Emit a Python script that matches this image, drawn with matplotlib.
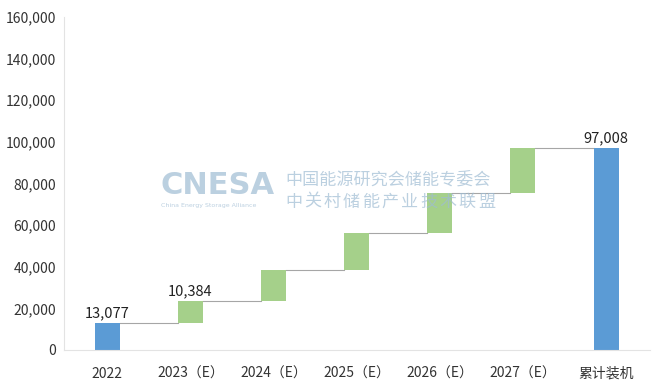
import matplotlib
matplotlib.use("Agg")
import matplotlib.pyplot as plt
import numpy as np

plt.rcParams["font.family"] = ["Noto Sans CJK SC", "DejaVu Sans"]

# 数据
categories = ["2022", "2023（E）", "2024（E）", "2025（E）", "2026（E）", "2027（E）", "累计装机"]
base_2022 = 13077
increments = [10384, 14800, 17700, 19600, 21447]
total = 97008
value_labels = {0: "13,077", 1: "10,384", 6: "97,008"}

blue = "#5B9BD5"
green = "#A5D08A"

fig = plt.figure(figsize=(6.62, 3.91), dpi=100)
ax = fig.add_axes([0.097, 0.105, 0.885, 0.852])

x = np.arange(len(categories))
w = 0.30

# 起点 / 增量 / 累计
bottoms = [0]
heights = [base_2022]
cum = base_2022
for inc in increments:
    bottoms.append(cum)
    heights.append(inc)
    cum += inc
bottoms.append(0)
heights.append(total)
colors = [blue] + [green] * len(increments) + [blue]

ax.bar(x, heights, bottom=bottoms, width=w, color=colors, zorder=2)

# 连接线
tops = [b + h for b, h in zip(bottoms, heights)]
for i in range(len(x) - 1):
    ax.plot([x[i] + w / 2, x[i + 1] - w / 2], [tops[i], tops[i]],
            color="#A6A6A6", lw=0.8, zorder=1)

for i, txt in value_labels.items():
    ax.text(x[i], tops[i] + 1200, txt, ha="center", va="bottom", fontsize=10.5,
            color="#222222")

ax.set_xlim(-0.52, 6.53)
ax.set_ylim(0, 160000)
ax.set_yticks(np.arange(0, 160001, 20000))
ax.set_yticklabels([f"{v:,}" for v in range(0, 160001, 20000)])
ax.set_xticks(x)
ax.set_xticklabels(categories)
ax.tick_params(axis="both", length=0, labelsize=10, colors="#333333")
ax.tick_params(axis="x", pad=12)
ax.tick_params(axis="y", pad=6)
for s in ["top", "right"]:
    ax.spines[s].set_visible(False)
for s in ["left", "bottom"]:
    ax.spines[s].set_color("#E3E3E3")
    ax.spines[s].set_linewidth(0.8)

# 水印
wm = "#9FBCD3"
fig.text(160 / 662, 1 - 186 / 391, "CNESA", fontsize=22, fontweight="bold",
         color=wm, alpha=0.7, va="center", ha="left", family="DejaVu Sans")
fig.text(161 / 662, 1 - 206 / 391, "China Energy Storage Alliance", fontsize=4.5,
         color=wm, alpha=0.7, va="center", ha="left", family="DejaVu Sans")
fig.text(285 / 662, 1 - 181 / 391, "中国能源研究会储能专委会", fontsize=12.3,
         color=wm, alpha=0.7, va="center", ha="left")
line2 = "中关村储能产业技术联盟"
for k, ch in enumerate(line2):
    fig.text((285 + k * 19.3) / 662, 1 - 202 / 391, ch, fontsize=12.3,
             color=wm, alpha=0.7, va="center", ha="left")

fig.savefig("out.png", dpi=100)
